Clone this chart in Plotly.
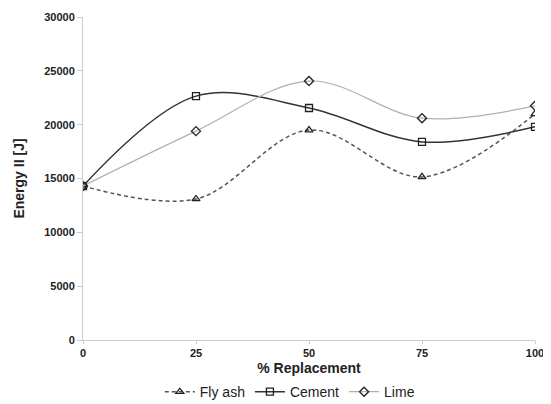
import plotly.graph_objects as go

replacement = [0, 25, 50, 75, 100]
fly_ash = [14300, 13100, 19500, 15150, 21000]
cement = [14300, 22650, 21550, 18400, 19800]
lime = [14300, 19400, 24050, 20600, 21750]
y_ticks = [0, 5000, 10000, 15000, 20000, 25000, 30000]

fig = go.Figure()
fig.add_trace(go.Scatter(x=replacement, y=fly_ash, name="Fly ash", mode="lines+markers",
                         line=dict(color="#555555", width=1.5, dash="4px,3px", shape="spline", smoothing=1.0),
                         marker=dict(symbol="triangle-up-open", size=7, color="#222222", line=dict(width=1.3))))
fig.add_trace(go.Scatter(x=replacement, y=cement, name="Cement", mode="lines+markers",
                         line=dict(color="#333333", width=1.5, shape="spline", smoothing=1.0),
                         marker=dict(symbol="square-open", size=7, color="#222222", line=dict(width=1.3))))
fig.add_trace(go.Scatter(x=replacement, y=lime, name="Lime", mode="lines+markers",
                         line=dict(color="#b0b0b0", width=1.2, shape="spline", smoothing=1.0),
                         marker=dict(symbol="diamond-open", size=7, color="#222222", line=dict(width=1.3))))

font_fam = "Liberation Sans, Arial, sans-serif"
fig.update_layout(
    width=543, height=396,
    margin=dict(l=75, r=16, t=9, b=64, autoexpand=False),
    paper_bgcolor="white", plot_bgcolor="white",
    font=dict(family=font_fam, color="#222222"),
    showlegend=True,
    legend=dict(orientation="h", x=0.519, xanchor="center", xref="container",
                y=0.03, yanchor="middle", yref="container",
                font=dict(size=14, color="#222222"), tracegroupgap=0, itemwidth=30),
    xaxis=dict(range=[0, 100], tickvals=replacement, showgrid=False, zeroline=False,
               showline=True, linecolor="#cccccc", linewidth=1, automargin=False,
               ticks="outside", ticklen=3, tickcolor="#cccccc",
               tickfont=dict(size=11, family=font_fam, weight="bold"),
               title=dict(text="<b>% Replacement</b>", font=dict(size=14), standoff=12)),
    yaxis=dict(range=[0, 30000], tickvals=y_ticks, ticktext=[str(v) for v in y_ticks],
               showgrid=False, zeroline=False, automargin=False,
               showline=True, linecolor="#cccccc", linewidth=1,
               ticks="outside", ticklen=5, tickcolor="#cccccc",
               tickfont=dict(size=11, family=font_fam, weight="bold"),
               title=dict(text="<b>Energy II [J]</b>", font=dict(size=14), standoff=16)),
)
fig.write_html("out.html")
